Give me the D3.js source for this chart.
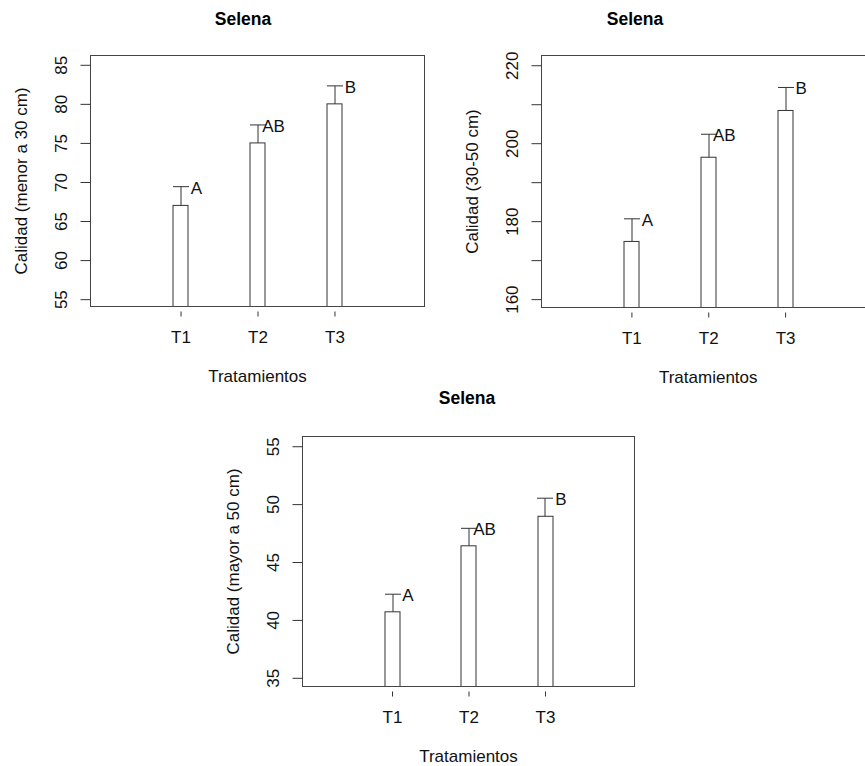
<!DOCTYPE html>
<html>
<head>
<meta charset="utf-8">
<script src="https://cdn.jsdelivr.net/npm/d3@7"></script>
<style>
  html, body { margin: 0; padding: 0; background: #fff; }
  svg { display: block; font-family: "Liberation Sans", Arial, sans-serif; }
  svg text { font-family: "Liberation Sans", Arial, sans-serif; }
</style>
</head>
<body>
<svg id="chart" width="865" height="766"></svg>
<script>
// ---- data ----
const categories = ["T1", "T2", "T3"];
const letters = ["A", "AB", "B"];
const titleText = "Selena";
const xTitle = "Tratamientos";

const means1 = [67.0, 75.0, 80.0];
const errs1 = [2.4, 2.3, 2.3];
const yTicks1 = [55, 60, 65, 70, 75, 80, 85];
const yLabels1 = [55, 60, 65, 70, 75, 80, 85];
const yTitle1 = "Calidad (menor a 30 cm)";

const means2 = [174.8, 196.4, 208.4];
const errs2 = [5.8, 5.9, 5.9];
const yTicks2 = [160, 170, 180, 190, 200, 210, 220];
const yLabels2 = [160, 180, 200, 220];
const yTitle2 = "Calidad (30-50 cm)";

const means3 = [40.7, 46.4, 48.95];
const errs3 = [1.52, 1.51, 1.56];
const yTicks3 = [35, 40, 45, 50, 55];
const yLabels3 = [35, 40, 45, 50, 55];
const yTitle3 = "Calidad (mayor a 50 cm)";

// ---- layout ----
const panels = [
  { means: means1, errs: errs1, ticks: yTicks1, labels: yLabels1, ytitle: yTitle1,
    left: 90.5, right: 424.5, top: 55.5, bottom: 306.5, ydom: [54.06, 86.19], titleX: 243, titleY: 18.5 },
  { means: means2, errs: errs2, ticks: yTicks2, labels: yLabels2, ytitle: yTitle2,
    left: 541.5, right: 875, top: 55.5, bottom: 307.5, ydom: [157.85, 222.5], titleX: 635, titleY: 18.5 },
  { means: means3, errs: errs3, ticks: yTicks3, labels: yLabels3, ytitle: yTitle3,
    left: 302.5, right: 634.5, top: 436.5, bottom: 686.5, ydom: [34.25, 55.84], titleX: 467, titleY: 397.5 }
];

const svg = d3.select("#chart");
const lineColor = "#333";
const fs = 17;

panels.forEach(p => {
  const W = p.right - p.left, H = p.bottom - p.top;
  const g = svg.append("g").attr("transform", `translate(${p.left},${p.top})`);

  const x = d3.scalePoint().domain(categories).range([0, W]).padding(1.17);
  const y = d3.scaleLinear().domain(p.ydom).range([H, 0]);
  const bw = x.step() * 0.2;

  // bars
  g.selectAll("rect.bar").data(categories).enter().append("rect")
    .attr("class", "bar")
    .attr("x", (d) => Math.round(x(d) - bw / 2) + 0.5)
    .attr("width", Math.round(bw))
    .attr("y", (d, i) => y(p.means[i]))
    .attr("height", (d, i) => H - y(p.means[i]))
    .attr("fill", "#fff").attr("stroke", lineColor).attr("stroke-width", 1);

  // error bars (upper only)
  categories.forEach((c, i) => {
    const cx = Math.round(x(c)) + 0.5;
    const yt = y(p.means[i] + p.errs[i]);
    g.append("line").attr("x1", cx).attr("x2", cx)
      .attr("y1", y(p.means[i])).attr("y2", yt)
      .attr("stroke", lineColor).attr("stroke-width", 1);
    g.append("line").attr("x1", cx - 8).attr("x2", cx + 8)
      .attr("y1", yt).attr("y2", yt)
      .attr("stroke", lineColor).attr("stroke-width", 1);
    g.append("text").attr("x", x(c) + 16).attr("y", yt + 7)
      .attr("text-anchor", "middle").attr("font-size", fs).attr("fill", "#111")
      .text(letters[i]);
  });

  // box
  g.append("rect").attr("x", 0).attr("y", 0).attr("width", W).attr("height", H)
    .attr("fill", "none").attr("stroke", "#444").attr("stroke-width", 1);

  // y axis
  const ya = g.append("g").call(
    d3.axisLeft(y).tickValues(p.ticks).tickSize(10)
      .tickFormat(v => p.labels.includes(v) ? String(v) : "")
  );
  ya.attr("font-family", null).attr("font-size", null);
  ya.select(".domain").remove();
  ya.selectAll(".tick line").attr("stroke", lineColor);
  ya.selectAll(".tick text")
    .attr("x", null).attr("dy", null)
    .attr("text-anchor", "middle")
    .attr("transform", "translate(-24,0) rotate(-90)")
    .attr("font-size", fs).attr("fill", "#111");

  // x axis
  const xa = g.append("g").attr("transform", `translate(0,${H + 5})`)
    .call(d3.axisBottom(x).tickSize(5));
  xa.attr("font-family", null).attr("font-size", null);
  xa.select(".domain").remove();
  xa.selectAll(".tick line").attr("stroke", lineColor);
  xa.selectAll(".tick text")
    .attr("y", 31.5).attr("dy", null)
    .attr("font-size", fs).attr("fill", "#111");

  // axis titles
  g.append("text").attr("x", W / 2).attr("y", H + 75)
    .attr("text-anchor", "middle").attr("font-size", fs).attr("fill", "#111")
    .text(xTitle);
  g.append("text")
    .attr("transform", `translate(-64,${H / 2}) rotate(-90)`)
    .attr("text-anchor", "middle").attr("font-size", fs).attr("fill", "#111")
    .text(p.ytitle);

  // main title
  svg.append("text").attr("x", p.titleX).attr("y", p.titleY + 6.3)
    .attr("text-anchor", "middle").attr("font-size", 17.5).attr("font-weight", "bold")
    .attr("fill", "#000").text(titleText);
});
</script>
</body>
</html>
